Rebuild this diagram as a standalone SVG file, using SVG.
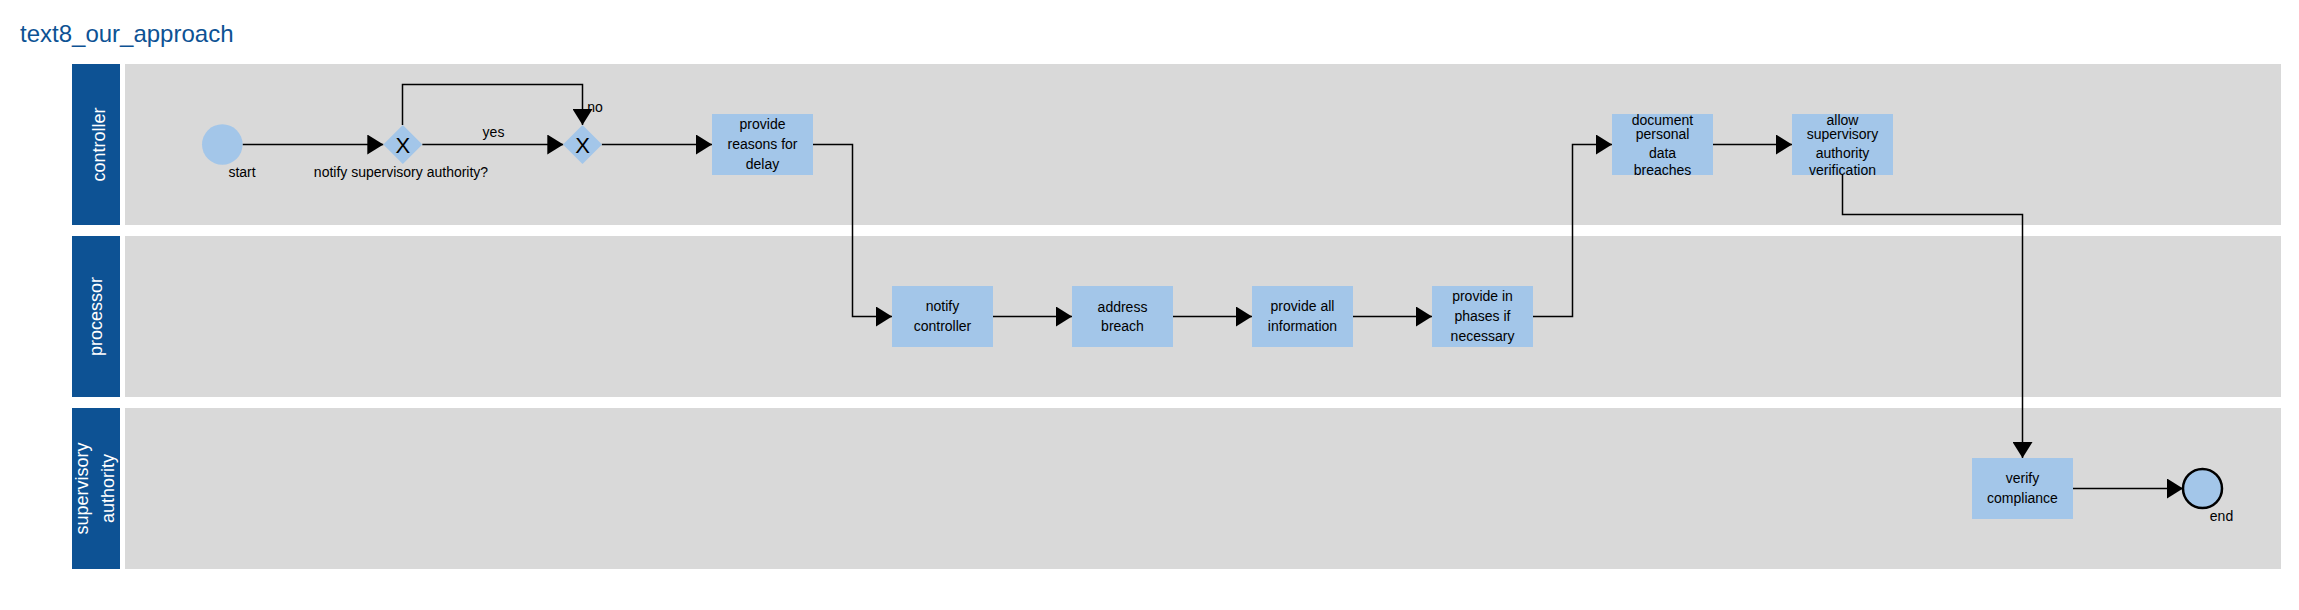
<svg xmlns="http://www.w3.org/2000/svg" width="2299" height="610" viewBox="0 0 2299 610">
<style>
text{font-family:"Liberation Sans",Arial,sans-serif;fill:#000}
.title{font-size:24px;fill:#0d5294}
.hdr{fill:#0d5294}
.lane{fill:#d9d9d9}
.hl{font-size:18px;fill:#fff;text-anchor:middle}
.task{fill:#a3c6e9}
.tt{font-size:14px;text-anchor:middle}
.lbl{font-size:14px;text-anchor:middle}
.gx{font-size:22px;text-anchor:middle}
.conn{fill:none;stroke:#000;stroke-width:1.5}
</style>
<defs>
<marker id="arr" markerUnits="userSpaceOnUse" markerWidth="16" markerHeight="20" viewBox="0 0 16 20" refX="16" refY="10" orient="auto">
<path d="M0,0 L16,10 L0,20 Z" fill="#000"/>
</marker>
</defs>
<rect width="2299" height="610" fill="#fff"/>
<text class="title" x="20" y="42">text8_our_approach</text>

<g id="lane-controller">
<rect class="hdr" x="72" y="64" width="48" height="161"/>
<rect class="lane" x="125" y="64" width="2156" height="161"/>
<text class="hl" transform="translate(105,144.5) rotate(-90)">controller</text>
</g>
<g id="lane-processor">
<rect class="hdr" x="72" y="236" width="48" height="161"/>
<rect class="lane" x="125" y="236" width="2156" height="161"/>
<text class="hl" transform="translate(102,316.5) rotate(-90)">processor</text>
</g>
<g id="lane-supervisory">
<rect class="hdr" x="72" y="408" width="48" height="161"/>
<rect class="lane" x="125" y="408" width="2156" height="161"/>
<text class="hl" transform="translate(88,488.5) rotate(-90)">supervisory</text>
<text class="hl" transform="translate(114,488.5) rotate(-90)">authority</text>
</g>

<g id="connectors">
<path class="conn" d="M242.5,144.5 H383.3" marker-end="url(#arr)"/>
<path class="conn" d="M422.3,144.5 H563.3" marker-end="url(#arr)"/>
<path class="conn" d="M402.5,125 V84.5 H582.5 V125" marker-end="url(#arr)"/>
<path class="conn" d="M601.7,144.5 H712" marker-end="url(#arr)"/>
<path class="conn" d="M813,144.5 H852.5 V316.5 H892" marker-end="url(#arr)"/>
<path class="conn" d="M993,316.5 H1072" marker-end="url(#arr)"/>
<path class="conn" d="M1173,316.5 H1252" marker-end="url(#arr)"/>
<path class="conn" d="M1353,316.5 H1432" marker-end="url(#arr)"/>
<path class="conn" d="M1533,316.5 H1572.5 V144.5 H1612" marker-end="url(#arr)"/>
<path class="conn" d="M1713,144.5 H1792" marker-end="url(#arr)"/>
<path class="conn" d="M1842.5,175 V214.5 H2022.5 V458" marker-end="url(#arr)"/>
<path class="conn" d="M2073,488.5 H2183" marker-end="url(#arr)"/>
<text class="lbl" x="493.5" y="137">yes</text>
<text class="lbl" x="595" y="112">no</text>
</g>

<g id="start">
<circle cx="222.3" cy="144.5" r="20.3" fill="#a3c6e9"/>
<text class="lbl" x="242" y="177">start</text>
</g>
<g id="gateway1">
<path d="M402.8,125 L422.3,144.5 L402.8,164 L383.3,144.5 Z" fill="#a3c6e9"/>
<text class="gx" x="402.8" y="152.5">X</text>
<text class="lbl" x="401" y="177">notify supervisory authority?</text>
</g>
<g id="gateway2">
<path d="M582.5,125 L602,144.5 L582.5,164 L563,144.5 Z" fill="#a3c6e9"/>
<text class="gx" x="582.5" y="152.5">X</text>
</g>

<g id="task-reasons">
<rect class="task" x="712" y="114" width="101" height="61"/>
<text class="tt" x="762.5" y="129">provide</text>
<text class="tt" x="762.5" y="149">reasons for</text>
<text class="tt" x="762.5" y="169">delay</text>
</g>
<g id="task-notify">
<rect class="task" x="892" y="286" width="101" height="61"/>
<text class="tt" x="942.5" y="311">notify</text>
<text class="tt" x="942.5" y="331">controller</text>
</g>
<g id="task-address">
<rect class="task" x="1072" y="286" width="101" height="61"/>
<text class="tt" x="1122.5" y="312">address</text>
<text class="tt" x="1122.5" y="331">breach</text>
</g>
<g id="task-provideall">
<rect class="task" x="1252" y="286" width="101" height="61"/>
<text class="tt" x="1302.5" y="311">provide all</text>
<text class="tt" x="1302.5" y="331">information</text>
</g>
<g id="task-phases">
<rect class="task" x="1432" y="286" width="101" height="61"/>
<text class="tt" x="1482.5" y="301">provide in</text>
<text class="tt" x="1482.5" y="321">phases if</text>
<text class="tt" x="1482.5" y="341">necessary</text>
</g>
<g id="task-document">
<rect class="task" x="1612" y="114" width="101" height="61"/>
<text class="tt" x="1662.5" y="125">document</text>
<text class="tt" x="1662.5" y="139">personal</text>
<text class="tt" x="1662.5" y="158">data</text>
<text class="tt" x="1662.5" y="175">breaches</text>
</g>
<g id="task-allow">
<rect class="task" x="1792" y="114" width="101" height="61"/>
<text class="tt" x="1842.5" y="125">allow</text>
<text class="tt" x="1842.5" y="139">supervisory</text>
<text class="tt" x="1842.5" y="158">authority</text>
<text class="tt" x="1842.5" y="175">verification</text>
</g>
<g id="task-verify">
<rect class="task" x="1972" y="458" width="101" height="61"/>
<text class="tt" x="2022.5" y="483">verify</text>
<text class="tt" x="2022.5" y="503">compliance</text>
</g>
<g id="end">
<circle cx="2202.5" cy="488.5" r="19.5" fill="#a3c6e9" stroke="#000" stroke-width="2.5"/>
<text class="lbl" x="2221.5" y="521">end</text>
</g>
</svg>
